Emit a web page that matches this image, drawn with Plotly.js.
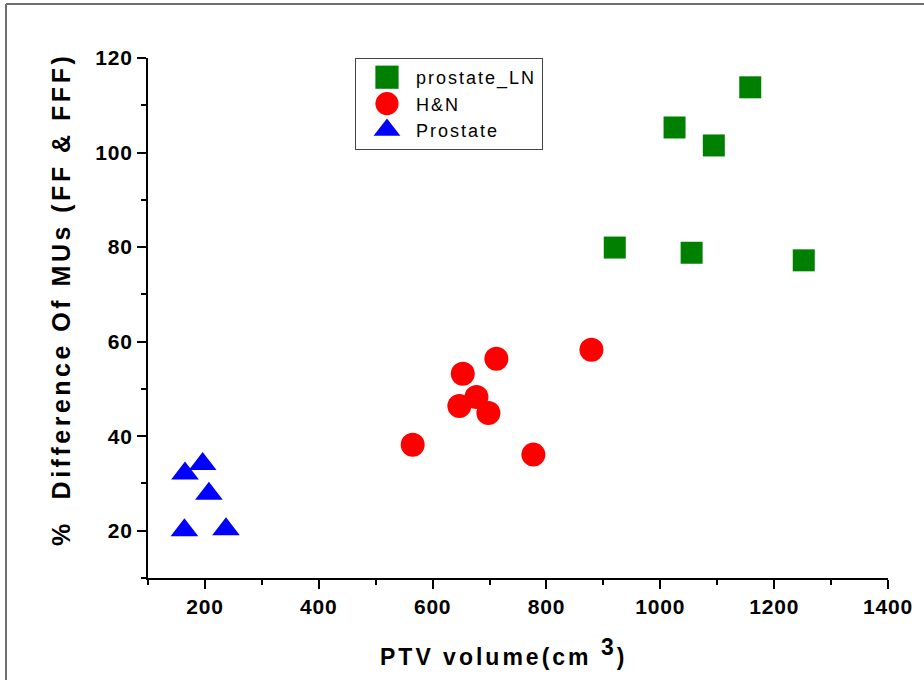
<!DOCTYPE html>
<html>
<head>
<meta charset="utf-8">
<script src="https://cdn.plot.ly/plotly-3.0.1.min.js"></script>
<style>
  html, body { margin: 0; padding: 0; background: #ffffff; }
  #chart { width: 924px; height: 680px; }
</style>
</head>
<body>
<div id="chart"></div>
<script>
// PTV volume (cm^3) vs % difference of MUs between FF and FFF plans
var prostateLN_x = [920, 1025, 1094, 1158, 1055, 1252];
var prostateLN_y = [79.9, 105.3, 101.5, 113.8, 78.8, 77.2];

var hn_x = [565, 653, 647, 677, 698, 712, 777, 879];
var hn_y = [38.2, 53.2, 46.4, 48.3, 44.9, 56.4, 36.1, 58.3];

var prostate_x = [165, 196, 207, 164, 237];
var prostate_y = [32.1, 34.1, 27.8, 20.1, 20.3];

var xTickVals = [200, 400, 600, 800, 1000, 1200, 1400];
var xTickText = ['200', '400', '600', '800', '1000', '1200', '1400'];
var yTickVals = [20, 40, 60, 80, 100, 120];
var yTickText = ['20', '40', '60', '80', '100', '120'];

var FONT = '"Liberation Sans", Arial, sans-serif';

function spaced(txt, px) {
  return '<span style="letter-spacing:' + px + 'px">' + txt + '</span>';
}
function boldLabels(arr) {
  return arr.map(function (t) { return '<b>' + spaced(t, 0.8) + '</b>'; });
}

var traces = [
  {
    x: prostateLN_x, y: prostateLN_y, type: 'scatter', mode: 'markers',
    name: spaced('prostate_LN', 2),
    marker: { symbol: 'square', size: 22, color: '#008000', line: { width: 0 } }
  },
  {
    x: hn_x, y: hn_y, type: 'scatter', mode: 'markers',
    name: spaced('H&amp;N', 2),
    marker: { symbol: 'circle', size: 24, color: '#ff0000', line: { width: 0 } }
  },
  {
    x: prostate_x, y: prostate_y, type: 'scatter', mode: 'markers',
    name: spaced('Prostate', 2),
    marker: { symbol: 'triangle-up', size: 24, color: '#0000ff', line: { width: 0 } }
  }
];

var axisCommon = {
  showgrid: false, zeroline: false,
  showline: true, linecolor: '#000', linewidth: 2,
  ticks: 'outside', ticklen: 9, tickwidth: 2, tickcolor: '#000',
  tickfont: { family: FONT, size: 21, color: '#000' },
  tickmode: 'array'
};

var layout = {
  width: 924, height: 680,
  margin: { l: 148, r: 36, t: 58, b: 102, autoexpand: false },
  paper_bgcolor: '#ffffff', plot_bgcolor: '#ffffff',
  font: { family: FONT, color: '#000' },
  showlegend: true,
  legend: {
    x: 0.2797, y: 1.0, xanchor: 'left', yanchor: 'top',
    bgcolor: '#ffffff', bordercolor: '#444', borderwidth: 1,
    font: { family: FONT, size: 18, color: '#000' },
    itemwidth: 50, tracegroupgap: 0
  },
  xaxis: Object.assign({}, axisCommon, {
    range: [100, 1400],
    tickvals: xTickVals, ticktext: boldLabels(xTickText),
    minor: { dtick: 100, tick0: 100, ticks: 'outside', ticklen: 5, tickwidth: 2, tickcolor: '#000' }
  }),
  yaxis: Object.assign({}, axisCommon, {
    range: [10, 120],
    tickvals: yTickVals, ticktext: boldLabels(yTickText),
    minor: { dtick: 10, tick0: 10, ticks: 'outside', ticklen: 5, tickwidth: 2, tickcolor: '#000' }
  }),
  annotations: [
    {
      xref: 'paper', yref: 'paper', x: -0.1176, y: 0.5365,
      xanchor: 'center', yanchor: 'middle', textangle: -90, showarrow: false,
      text: '<b>' + spaced('%&nbsp;&nbsp;Difference Of MUs (FF &amp; FFF)', 3.5) + '</b>',
      font: { family: FONT, size: 25, color: '#000' }
    },
    {
      xref: 'paper', yref: 'paper', x: 0.481, y: -0.142,
      xanchor: 'center', yanchor: 'middle', showarrow: false,
      text: '<b>' + spaced('PTV volume(cm <sup><span style="font-size:23px">3</span></sup>)', 3) + '</b>',
      font: { family: FONT, size: 23, color: '#000' }
    }
  ],
  shapes: [
    // outer frame: top and left edges
    { type: 'line', xref: 'paper', yref: 'paper', x0: -0.1919, x1: 1.06, y0: 1.1038, y1: 1.1038,
      line: { color: '#6e6e6e', width: 2 } },
    { type: 'line', xref: 'paper', yref: 'paper', x0: -0.1919, x1: -0.1919, y0: 1.1038, y1: -0.2,
      line: { color: '#6e6e6e', width: 2 } }
  ]
};

Plotly.newPlot('chart', traces, layout, { displayModeBar: false, staticPlot: true }).then(function () {
  // enlarge legend symbols to the size of the plotted markers
  var pts = document.querySelectorAll('.legend .legendpoints path.scatterpts');
  pts.forEach(function (p) {
    p.setAttribute('transform', 'translate(31,0) scale(1.45)');
  });
});
</script>
</body>
</html>
